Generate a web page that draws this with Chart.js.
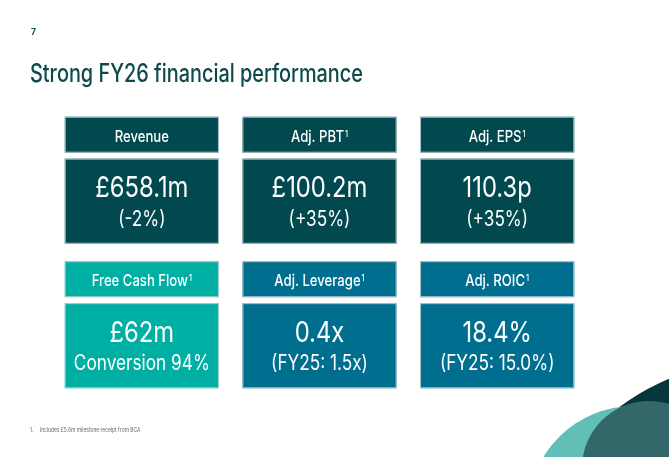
<!DOCTYPE html>
<html>
<head>
<meta charset="utf-8">
<script src="https://cdn.jsdelivr.net/npm/chart.js@4.4.1/dist/chart.umd.min.js"></script>
<style>
  html, body { margin: 0; padding: 0; background: #fff; }
  #wrap { position: relative; width: 669px; height: 457px; overflow: hidden; font-family: Inter, "Open Sans", sans-serif; }
  #kpi { position: absolute; left: 0; top: 0; }
  .page { position: absolute; left: 31px; top: 27px; font-size: 8.5px; font-weight: 700; color: #0e4a4b; }
  .title { position: absolute; left: 30px; top: 58px; font-size: 25px; font-weight: 500; color: #0e4a4b;
           transform: scaleX(0.795); transform-origin: left top; white-space: nowrap; }
  .note { position: absolute; left: 30px; top: 426px; font-size: 6px; color: #666; white-space: nowrap;
          transform: scaleX(0.82); transform-origin: left top; }
  .note span { display: inline-block; width: 12px; }
</style>
</head>
<body>
<div id="wrap">
  <canvas id="kpi" width="669" height="457"></canvas>
  <div class="page">7</div>
  <div class="title">Strong FY26 financial performance</div>
  <div class="note"><span>1.</span>Includes £5.6m milestone receipt from BCA</div>
</div>
<script>
// KPI tiles, read left to right, top to bottom
const metrics = ["Revenue", "Adj. PBT", "Adj. EPS", "Free Cash Flow", "Adj. Leverage", "Adj. ROIC"];
const footnoted = [false, true, true, true, true, true];
const headlines = ["£658.1m", "£100.2m", "110.3p", "£62m", "0.4x", "18.4%"];
const subLines = ["(-2%)", "(+35%)", "(+35%)", "Conversion 94%", "(FY25: 1.5x)", "(FY25: 15.0%)"];
const gridColumns = ["c1", "c2", "c3"];
const gridRows = ["r1", "r2"];

const tileColours = ["#01494f", "#01494f", "#01494f", "#00afa4", "#006e8f", "#006e8f"];
const FONT = 'Inter, "Open Sans", sans-serif';
const SQUASH = 0.82; // the slide is squeezed sideways

function squashedText(ctx, text, x, y) {
  ctx.save();
  ctx.translate(x, y);
  ctx.scale(SQUASH, 1);
  ctx.fillText(text, 0, 0);
  ctx.restore();
}

const tilesPlugin = {
  id: "tiles",
  beforeDraw(chart) {
    // decorative circles, bottom right
    const ctx = chart.ctx;
    ctx.save();
    ctx.fillStyle = "#06363a";
    ctx.beginPath(); ctx.arc(762, 600, 240, 0, Math.PI * 2); ctx.fill();
    ctx.fillStyle = "#62bfb8";
    ctx.beginPath(); ctx.arc(634, 512, 106, 0, Math.PI * 2); ctx.fill();
    ctx.fillStyle = "#33676a";
    ctx.beginPath(); ctx.arc(649, 468, 67, 0, Math.PI * 2); ctx.fill();
    ctx.restore();
  },
  afterDraw(chart) {
    const { ctx, scales: { x, y } } = chart;
    const colW = x.getPixelForValue(1) - x.getPixelForValue(0);
    const rowH = y.getPixelForValue(1) - y.getPixelForValue(0);
    const tileW = colW * 0.868;
    const tileH = rowH * 0.879;
    const headH = tileH * 0.283;
    const gap = tileH * 0.047;

    ctx.save();
    ctx.textBaseline = "alphabetic";
    metrics.forEach((name, i) => {
      const cx = x.getPixelForValue(i % 3);
      const cy = y.getPixelForValue(Math.floor(i / 3));
      const left = cx - tileW / 2;
      const top = cy - tileH / 2;
      const bodyTop = top + headH + gap;
      const bodyH = tileH - headH - gap;

      ctx.fillStyle = tileColours[i];
      ctx.strokeStyle = "rgba(190,210,212,0.9)";
      ctx.lineWidth = 1;
      ctx.fillRect(left, top, tileW, headH);
      ctx.strokeRect(left + 0.5, top + 0.5, tileW - 1, headH - 1);
      ctx.fillRect(left, bodyTop, tileW, bodyH);
      ctx.strokeRect(left + 0.5, bodyTop + 0.5, tileW - 1, bodyH - 1);

      // header with footnote mark
      ctx.fillStyle = "#ffffff";
      ctx.textAlign = "left";
      ctx.font = "500 16px " + FONT;
      const w = ctx.measureText(name).width * SQUASH;
      ctx.font = "500 9px " + FONT;
      const sw = footnoted[i] ? ctx.measureText("1").width * SQUASH + 1 : 0;
      const sx = cx - (w + sw) / 2;
      const base = top + headH * 0.69;
      ctx.font = "500 16px " + FONT;
      squashedText(ctx, name, sx, base);
      if (footnoted[i]) {
        ctx.font = "500 9px " + FONT;
        squashedText(ctx, "1", sx + w + 1, base - 5);
      }

      // body
      ctx.textAlign = "center";
      ctx.font = "400 29px " + FONT;
      squashedText(ctx, headlines[i], cx, bodyTop + bodyH * 0.455);
      ctx.font = "400 21px " + FONT;
      squashedText(ctx, subLines[i], cx, bodyTop + bodyH * 0.79);
    });
    ctx.restore();
  }
};

new Chart(document.getElementById("kpi").getContext("2d"), {
  type: "bar",
  data: { labels: gridColumns, datasets: [] },
  options: {
    responsive: false,
    animation: false,
    layout: { padding: { left: 53, right: 83, top: 108, bottom: 60 } },
    plugins: { legend: { display: false }, tooltip: { enabled: false } },
    scales: {
      x: { display: false, offset: true },
      y: { type: "category", labels: gridRows, display: false, offset: true }
    }
  },
  plugins: [tilesPlugin]
});
</script>
</body>
</html>
